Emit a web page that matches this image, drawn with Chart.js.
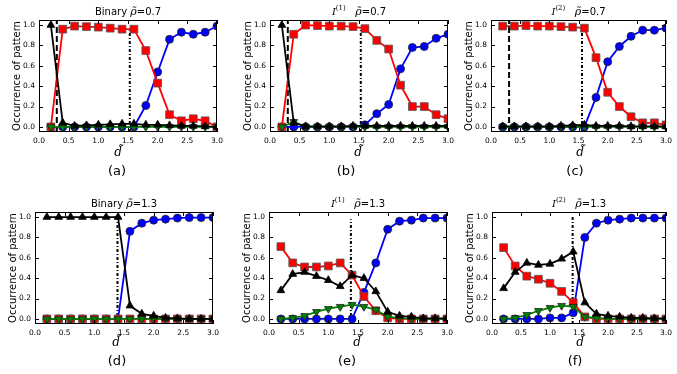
<!DOCTYPE html>
<html><head><meta charset="utf-8">
<script src="https://cdn.jsdelivr.net/npm/chart.js@4"></script>
<style>
html,body{margin:0;padding:0;background:#fff;}
#wrap{position:relative;width:677px;height:374px;overflow:hidden;}
#wrap canvas{position:absolute;left:0;top:0;}
</style></head><body><div id="wrap"></div>
<script>
const xVals = [0.2,0.4,0.6,0.8,1.0,1.2,1.4,1.6,1.8,2.0,2.2,2.4,2.6,2.8,3.0];
const xTicks = [0,0.5,1,1.5,2,2.5,3];
const yTicks = [0,0.2,0.4,0.6,0.8,1];
const zeros = xVals.map(()=>0);

// (a) Binary, rho=0.7
const aRed   = [0.0,0.96,0.99,0.985,0.98,0.97,0.96,0.96,0.75,0.43,0.12,0.06,0.08,0.06,0.0];
const aBlue  = [0,0,0,0,0,0,0,0,0.21,0.54,0.86,0.93,0.91,0.93,0.99];
const aBlack = [1.0,0.04,0.01,0.015,0.02,0.025,0.03,0.03,0.02,0.02,0.015,0.01,0.01,0.005,0.0];
const aGreen = zeros;
// (b) I(1), rho=0.7
const bRed   = [0.0,0.91,1.0,0.995,0.99,0.99,0.985,0.965,0.85,0.765,0.41,0.20,0.20,0.12,0.08];
const bBlue  = [0,0,0,0,0,0,0,0.02,0.13,0.22,0.57,0.78,0.79,0.87,0.91];
const bBlack = [1.0,0.04,0.005,0.005,0.005,0.005,0.01,0.01,0.01,0.01,0.01,0.01,0.01,0.01,0.01];
const bGreen = [0,0.05,0,0,0,0,0,0,0,0,0,0,0,0,0];
// (c) I(2), rho=0.7
const cRed   = [0.99,0.99,0.995,0.99,0.99,0.985,0.98,0.97,0.68,0.34,0.20,0.10,0.04,0.04,0.02];
const cBlue  = [0,0,0,0,0,0,0,0,0.29,0.64,0.79,0.89,0.95,0.95,0.97];
const cBlack = [0.005,0.005,0.005,0.005,0.005,0.01,0.015,0.02,0.01,0.01,0.01,0.005,0.005,0.005,0.005];
const cGreen = zeros;
// (d) Binary, rho=1.3
const dRed   = zeros;
const dBlue  = [0,0,0,0,0,0,0,0.86,0.94,0.97,0.98,0.99,0.995,0.995,0.995];
const dBlack = [1,1,1,1,1,1,1,0.13,0.05,0.03,0.01,0.005,0,0,0];
const dGreen = zeros;
// (e) I(1), rho=1.3
const eRed   = [0.71,0.55,0.51,0.51,0.52,0.55,0.43,0.22,0.08,0.01,0,0,0,0,0];
const eBlue  = [0,0,0,0,0,0,0,0.26,0.55,0.88,0.96,0.97,0.99,0.99,0.99];
const eBlack = [0.28,0.44,0.46,0.42,0.38,0.32,0.43,0.40,0.27,0.07,0.03,0.02,0.005,0.005,0.005];
const eGreen = [0.0,0.01,0.03,0.07,0.10,0.12,0.14,0.12,0.09,0.02,0.01,0,0,0,0];
// (f) I(2), rho=1.3
const fRed   = [0.70,0.52,0.42,0.39,0.35,0.27,0.16,0.02,0,0,0,0,0,0,0];
const fBlue  = [0,0,0,0,0.01,0.01,0.06,0.80,0.94,0.97,0.98,0.99,0.99,0.99,0.99];
const fBlack = [0.30,0.46,0.55,0.53,0.54,0.59,0.66,0.16,0.05,0.03,0.02,0.01,0.01,0.005,0.005];
const fGreen = [0.0,0.01,0.04,0.08,0.11,0.13,0.12,0.02,0.01,0,0,0,0,0,0];

const panels = [
  {kind:'Binary', rho:'0.7', red:aRed, blue:aBlue, black:aBlack, green:aGreen, dash:0.3, dot:1.53, dotTop:0.95, L:39, R:217, T:20, B:132, cap:'(a)', capX:117, capY:172, lblX:118, lblY:153},
  {kind:'I', sup:'(1)', rho:'0.7', red:bRed, blue:bBlue, black:bBlack, green:bGreen, dash:0.3, dot:1.53, dotTop:0.96, L:270, R:448, T:20, B:132, cap:'(b)', capX:346, capY:172, lblX:358, lblY:153},
  {kind:'I', sup:'(2)', rho:'0.7', red:cRed, blue:cBlue, black:cBlack, green:cGreen, dash:0.31, dot:1.56, dotTop:0.93, L:491, R:670, T:20, B:132, cap:'(c)', capX:575, capY:172, lblX:580, lblY:153},
  {kind:'Binary', rho:'1.3', red:dRed, blue:dBlue, black:dBlack, green:dGreen, dash:null, dot:1.39, dotTop:1.0, L:35, R:213, T:212, B:324, cap:'(d)', capX:117, capY:362, lblX:116, lblY:343},
  {kind:'I', sup:'(1)', rho:'1.3', red:eRed, blue:eBlue, black:eBlack, green:eGreen, dash:null, dot:1.38, dotTop:0.98, L:269, R:447, T:212, B:324, cap:'(e)', capX:347, capY:362, lblX:357, lblY:343},
  {kind:'I', sup:'(2)', rho:'1.3', red:fRed, blue:fBlue, black:fBlack, green:fGreen, dash:null, dot:1.39, dotTop:1.0, L:492, R:671, T:212, B:324, cap:'(f)', capX:575, capY:362, lblX:580, lblY:343}
];

const SANS = 'DejaVu Sans';
const SERIF = 'DejaVu Serif';
const xy = arr => arr.map((v,i)=>({x:xVals[i], y:v}));

function series(arr, color, style, r, rot, edge){
  return {data:xy(arr), borderColor:color, backgroundColor:color, borderWidth:1.8,
    pointStyle:style, pointRadius:r, pointRotation:rot||0, pointBackgroundColor:color,
    pointBorderColor:edge, pointBorderWidth:0.8, tension:0};
}

function drawSegs(ctx, segs, cx, cy){
  let w = 0;
  segs.forEach(s=>{ ctx.font = s.f; s.w = ctx.measureText(s.t).width; w += s.w; });
  let x = cx - w/2;
  segs.forEach(s=>{ ctx.font = s.f; ctx.fillText(s.t, x, cy + (s.dy||0)); x += s.w; });
}

function framePlugin(p){
  return {id:'frame', afterDatasetsDraw(ch){
    const {ctx, chartArea:a, scales:{x, y}} = ch;
    ctx.save();
    ctx.strokeStyle = '#000'; ctx.lineWidth = 1;
    ctx.strokeRect(a.left+0.5, a.top+0.5, a.right-a.left-1, a.bottom-a.top-1);
    ctx.beginPath();
    xTicks.forEach(v=>{
      const px = Math.round(x.getPixelForValue(v))+0.5;
      ctx.moveTo(px, a.bottom); ctx.lineTo(px, a.bottom-4);
      ctx.moveTo(px, a.top); ctx.lineTo(px, a.top+4);
    });
    yTicks.forEach(v=>{
      const py = Math.round(y.getPixelForValue(v))+0.5;
      ctx.moveTo(a.left, py); ctx.lineTo(a.left+4, py);
      ctx.moveTo(a.right, py); ctx.lineTo(a.right-4, py);
    });
    ctx.stroke();

    ctx.fillStyle = '#000';
    ctx.textBaseline = 'middle'; ctx.textAlign = 'left';
    const cx = (a.left + a.right)/2;
    const ty = a.top - 8;
    const rhoSegs = [{t:'\u03C1\u0303', f:'italic 11px '+SERIF}, {t:'=' + p.rho, f:'10px '+SANS}];
    if (p.kind === 'Binary') {
      drawSegs(ctx, [{t:'Binary ', f:'10px '+SANS}].concat(rhoSegs), cx, ty);
    } else {
      drawSegs(ctx, [{t:'I', f:'italic 10px '+SERIF}, {t:p.sup, f:'7px '+SERIF, dy:-4}, {t:'   ', f:'10px '+SANS}].concat(rhoSegs), cx, ty);
    }
    // x label
    drawSegs(ctx, [{t:'d\u0303', f:'italic 12px '+SERIF}], p.lblX, p.lblY);
    // caption
    drawSegs(ctx, [{t:p.cap, f:'13px '+SANS}], p.capX, p.capY);
    // y label
    ctx.translate(a.left - 22, (a.top + a.bottom)/2);
    ctx.rotate(-Math.PI/2);
    drawSegs(ctx, [{t:'Occurrence of pattern', f:'10px '+SANS}], 0, 0);
    ctx.restore();
  }};
}

const wrap = document.getElementById('wrap');
panels.forEach(p=>{
  const cv = document.createElement('canvas');
  cv.width = 677; cv.height = 374;
  wrap.appendChild(cv);
  const ds = [
    series(p.black, '#000000', 'triangle', 4.5, 0, '#000000'),
    series(p.green, '#008000', 'triangle', 4.5, 180, '#222222'),
    series(p.red, '#ff0000', 'rect', 5.5, 0, '#555555'),
    series(p.blue, '#0000ff', 'circle', 4, 0, '#222222')
  ];
  if (p.dash !== null) {
    ds.push({data:[{x:p.dash,y:-0.05},{x:p.dash,y:1.05}], borderColor:'#000', borderWidth:2, borderDash:[6,3], pointRadius:0});
  }
  ds.push({data:[{x:p.dot,y:-0.05},{x:p.dot,y:p.dotTop}], borderColor:'#000', borderWidth:2, borderDash:[3,2,1,2], pointRadius:0});

  new Chart(cv, {
    type:'line',
    data:{datasets:ds},
    options:{
      responsive:false, animation:false, events:[],
      layout:{padding:{left:p.L-30, top:p.T, right:677-p.R, bottom:374-p.B-16}},
      scales:{
        x:{type:'linear', min:0, max:3,
          afterBuildTicks:s=>{ s.ticks = xTicks.map(v=>({value:v})); },
          afterFit:s=>{ s.height = 16; },
          grid:{display:false, drawTicks:false}, border:{display:false},
          ticks:{padding:5, maxRotation:0, autoSkip:false, color:'#000', font:{family:SANS, size:7.5}, callback:v=>Number(v).toFixed(1)}},
        y:{type:'linear', min:-0.05, max:1.05,
          afterBuildTicks:s=>{ s.ticks = yTicks.map(v=>({value:v})); },
          afterFit:s=>{ s.width = 30; },
          grid:{display:false, drawTicks:false}, border:{display:false},
          ticks:{padding:4, autoSkip:false, color:'#000', font:{family:SANS, size:7.5}, callback:v=>Number(v).toFixed(1)}}
      },
      plugins:{legend:{display:false}, tooltip:{enabled:false}, title:{display:false}}
    },
    plugins:[framePlugin(p)]
  });
});
</script></body></html>
